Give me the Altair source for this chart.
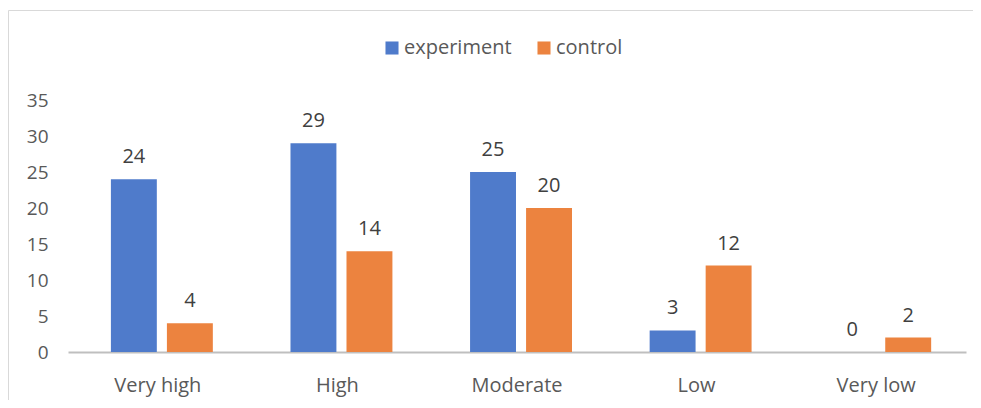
import altair as alt
import pandas as pd

categories = ["Very high", "High", "Moderate", "Low", "Very low"]
experiment = [24, 29, 25, 3, 0]
control = [4, 14, 20, 12, 2]
series = ["experiment", "control"]
colors = ["#4F7BCB", "#EC833F"]

rows = []
for c, e, k in zip(categories, experiment, control):
    rows.append({"category": c, "series": "experiment", "value": e})
    rows.append({"category": c, "series": "control", "value": k})
df = pd.DataFrame(rows)

FONT = "Open Sans"
FS = 20

x = alt.X("category:N", sort=categories, title=None,
          scale=alt.Scale(paddingInner=0.3875, paddingOuter=0.194),
          axis=alt.Axis(labelAngle=0, labelFontSize=FS, labelColor="#595959",
                        labelFont=FONT, domainColor="#BFBFBF", domainWidth=2,
                        ticks=False, labelPadding=23))
y = alt.Y("value:Q", title=None,
          scale=alt.Scale(domain=[0, 35], nice=False),
          axis=alt.Axis(values=[0, 5, 10, 15, 20, 25, 30, 35], grid=False, domain=False,
                        ticks=False, labelFontSize=19, labelColor="#595959",
                        labelFont=FONT, labelPadding=20))
xo = alt.XOffset("series:N", sort=series,
                 scale=alt.Scale(paddingInner=0.18, paddingOuter=0.072, align=1))

bars = alt.Chart(df).mark_bar().encode(
    x=x, y=y, xOffset=xo,
    color=alt.Color("series:N", sort=series,
                    scale=alt.Scale(domain=series, range=colors),
                    legend=alt.Legend(title=None, orient="none", direction="horizontal",
                                      legendX=314, legendY=-62, symbolType="square",
                                      symbolSize=170, symbolStrokeWidth=0,
                                      labelFontSize=FS, labelColor="#595959",
                                      labelFont=FONT, columnPadding=22, labelOffset=2)),
)

labels = alt.Chart(df).mark_text(dy=-22, fontSize=FS, color="#404040", font=FONT,
                                 baseline="middle").encode(
    x=x, y=y, xOffset=xo, text="value:Q")

border_left = alt.Chart(pd.DataFrame({"a": [0]})).mark_rule(color="#D9D9D9", strokeWidth=1).encode(
    x=alt.value(-59.5), y=alt.value(-89.5), y2=alt.value(320))
border_top = alt.Chart(pd.DataFrame({"a": [0]})).mark_rule(color="#D9D9D9", strokeWidth=1).encode(
    x=alt.value(-59.5), x2=alt.value(920), y=alt.value(-89.5))

chart = alt.layer(border_left, border_top, bars, labels).properties(
    width=898, height=252,
    padding={"left": 60, "top": 92, "right": 7, "bottom": 48},
    autosize=alt.AutoSizeParams(type="none"),
    background="white",
).configure_view(stroke=None)

chart.save("out.html", embed_options={"renderer": "svg", "actions": False})
